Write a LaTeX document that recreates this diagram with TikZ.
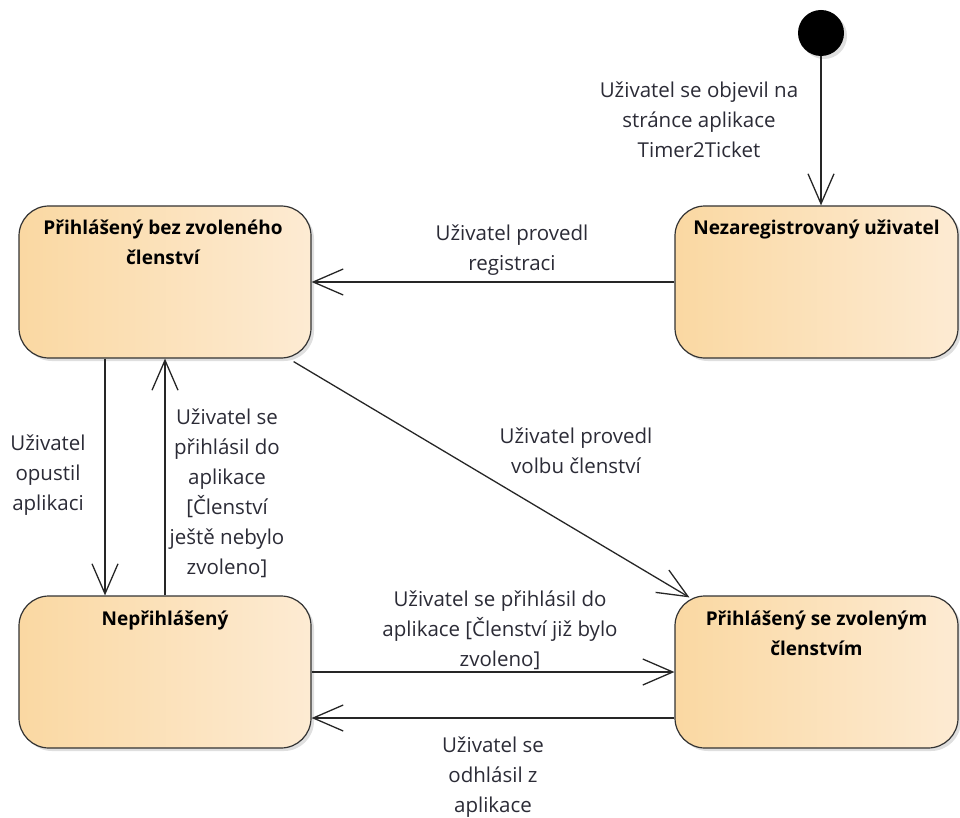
\documentclass[tikz,border=0pt]{standalone}
\usepackage{fontspec}
\setmainfont{Open Sans}
\usetikzlibrary{arrows.meta,shadows}
\definecolor{stateL}{HTML}{FAD8A2}
\definecolor{stateR}{HTML}{FDEBD3}
\definecolor{labeltext}{HTML}{2B2B36}
\begin{document}
\begin{tikzpicture}[x=1pt,y=1pt,
  state/.style={rectangle, rounded corners=30pt, draw=black!80, line width=1.2pt,
    left color=stateL, right color=stateR, minimum height=152pt, inner sep=0pt,
    drop shadow={shadow xshift=3pt,shadow yshift=-3pt,opacity=0.25}},
  % multi-line nodes: the base anchor sits on the last line's baseline
  title/.style={font=\bfseries\fontsize{19}{30}\selectfont, align=center, anchor=base, inner sep=0pt},
  lbl/.style={font=\fontsize{20.5}{30}\selectfont, text=labeltext, align=center, anchor=base, inner sep=0pt},
  trans/.style={draw=black!85, line width=1.3pt, -{Straight Barb[length=30pt,width=26pt,line width=1.3pt]}},
]
\useasboundingbox (0,0) rectangle (960,-818);

% states
\node[state, minimum width=292pt] (b1) at (165,-282) {};
\node[state, minimum width=283pt] (b2) at (816.5,-282) {};
\node[state, minimum width=292pt] (b3) at (165,-672) {};
\node[state, minimum width=283pt] (b4) at (816.5,-672) {};

% initial pseudo-state
\node[circle, fill=black, minimum size=46pt, inner sep=0pt,
  drop shadow={shadow xshift=3pt,shadow yshift=-3pt,opacity=0.25}] (init) at (821,-33) {};

% state titles
\node[title] (t1) at (163,-264) {Přihlášený bez zvoleného\\členství};
\node[title] (t2) at (816.5,-235) {Nezaregistrovaný uživatel};
\node[title] (t3) at (165,-625) {Nepřihlášený};
\node[title] (t4) at (816.5,-655) {Přihlášený se zvoleným\\členstvím};

% transitions
\draw[trans] (init.south) -- (init.south |- b2.north);
\draw[trans] (b2.west) -- (b1.east);
\draw[trans] ([xshift=-60pt]b1.south) -- ([xshift=-60pt]b3.north);
\draw[trans] (b3.north) -- (b1.south);
\draw[trans] ([shift={(-18pt,-3pt)}]b1.south east) -- ([shift={(15pt,-2pt)}]b4.north west);
\draw[trans] (b3.east) -- (b4.west);
\draw[trans] ([yshift=-46pt]b4.west) -- ([yshift=-46pt]b3.east);

% transition labels
\node[lbl] (l0) at (699,-158) {Uživatel se objevil na\\stránce aplikace\\Timer2Ticket};
\node[lbl] (l1) at (512,-270) {Uživatel provedl\\registraci};
\node[lbl] (l2) at (48,-510) {Uživatel\\opustil\\aplikaci};
\node[lbl] (l3) at (227,-574) {Uživatel se\\přihlásil do\\aplikace\\{[Členství}\\ještě nebylo\\zvoleno]};
\node[lbl] (l4) at (576,-473) {Uživatel provedl\\volbu členství};
\node[lbl] (l5) at (500,-666) {Uživatel se přihlásil do\\aplikace [Členství již bylo\\zvoleno]};
\node[lbl] (l6) at (493,-812) {Uživatel se\\odhlásil z\\aplikace};
\end{tikzpicture}
\end{document}
